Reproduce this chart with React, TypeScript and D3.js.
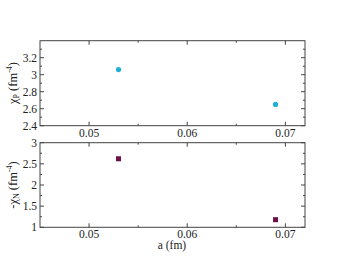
import { useEffect, useRef } from 'react';
import * as d3 from 'd3';

// lattice spacing a (fm)
const spacings = [0.053, 0.069];
const chiP = [3.06, 2.65];
const chiN = [2.62, 1.18];

const xTicks = [0.05, 0.06, 0.07];
const xMinor = [0.055, 0.065];
const topTicks = [2.4, 2.6, 2.8, 3.0, 3.2];
const topMinor = [2.5, 2.7, 2.9, 3.1, 3.3];
const botTicks = [1, 1.5, 2, 2.5, 3];
const botMinor = [1.25, 1.75, 2.25, 2.75];

const App = () => {
  const svgRef = useRef<SVGSVGElement>(null);

  useEffect(() => {
    const svg = d3.select(svgRef.current);
    svg.selectAll('*').remove();

    const left = 40;
    const right = 305;
    const frame = '#444';
    const font = '"Liberation Serif", "Times New Roman", serif';

    const x = d3.scaleLinear().domain([0.045, 0.072]).range([left, right]);

    const panel = (
      top: number,
      bottom: number,
      domain: [number, number],
      major: number[],
      minor: number[],
      fmt: (v: number) => string,
    ) => {
      const y = d3.scaleLinear().domain(domain).range([bottom, top]);
      const g = svg.append('g');

      g.append('rect')
        .attr('x', left)
        .attr('y', top)
        .attr('width', right - left)
        .attr('height', bottom - top)
        .attr('fill', 'none')
        .attr('stroke', frame)
        .attr('stroke-width', 1);

      // ticks on all four sides, pointing inward
      const tk = (len: number, vals: number[], isX: boolean) => {
        vals.forEach(v => {
          if (isX) {
            const px = x(v);
            g.append('line').attr('x1', px).attr('x2', px).attr('y1', bottom).attr('y2', bottom - len).attr('stroke', frame);
            g.append('line').attr('x1', px).attr('x2', px).attr('y1', top).attr('y2', top + len).attr('stroke', frame);
          } else {
            const py = y(v);
            g.append('line').attr('x1', left).attr('x2', left + len).attr('y1', py).attr('y2', py).attr('stroke', frame);
            g.append('line').attr('x1', right).attr('x2', right - len).attr('y1', py).attr('y2', py).attr('stroke', frame);
          }
        });
      };
      tk(4, xTicks, true);
      tk(2, xMinor, true);
      tk(4, major, false);
      tk(2, minor, false);

      g.selectAll('.xl')
        .data(xTicks)
        .enter()
        .append('text')
        .attr('x', d => x(d))
        .attr('y', bottom + 11)
        .attr('text-anchor', 'middle')
        .style('font-family', font)
        .style('font-size', '11.5px')
        .attr('fill', '#222')
        .text(d => d.toFixed(2));

      g.selectAll('.yl')
        .data(major)
        .enter()
        .append('text')
        .attr('x', left - 3)
        .attr('y', d => y(d) + 4)
        .attr('text-anchor', 'end')
        .style('font-family', font)
        .style('font-size', '11.5px')
        .attr('fill', '#222')
        .text(d => fmt(d));

      return { g, y };
    };

    const fmtTop = (v: number) => (Math.abs(v - 3) < 1e-9 ? '3' : v.toFixed(1));
    const fmtBot = (v: number) => (Number.isInteger(v) ? String(v) : v.toFixed(1));

    const p1 = panel(40.7, 125.7, [2.4, 3.4], topTicks, topMinor, fmtTop);
    const p2 = panel(142.7, 227.3, [1, 3], botTicks, botMinor, fmtBot);

    p1.g.selectAll('circle')
      .data(spacings)
      .enter()
      .append('circle')
      .attr('cx', d => x(d))
      .attr('cy', (d, i) => p1.y(chiP[i]))
      .attr('r', 2.6)
      .attr('fill', '#1fb2d6');

    p2.g.selectAll('rect.pt')
      .data(spacings)
      .enter()
      .append('rect')
      .attr('class', 'pt')
      .attr('x', d => x(d) - 2.5)
      .attr('y', (d, i) => p2.y(chiN[i]) - 2.5)
      .attr('width', 5)
      .attr('height', 5)
      .attr('fill', '#6b0f46');

    // axis titles
    const yTitle = (cx: number, cy: number, prefix: string, sub: string) => {
      const t = svg.append('text')
        .attr('transform', `translate(${cx},${cy}) rotate(-90)`)
        .attr('text-anchor', 'middle')
        .style('font-family', font)
        .style('font-size', '12.5px')
        .attr('fill', '#222');
      t.append('tspan').text(prefix + 'χ');
      t.append('tspan').attr('dy', 2).style('font-size', '8px').text(sub);
      t.append('tspan').attr('dy', -2).text(' (fm');
      t.append('tspan').attr('dy', -5).style('font-size', '8px').text('-4');
      t.append('tspan').attr('dy', 5).text(')');
    };
    yTitle(17, 83, '', 'P');
    yTitle(17, 185, '-', 'N');

    svg.append('text')
      .attr('x', 172)
      .attr('y', 249)
      .attr('text-anchor', 'middle')
      .style('font-family', font)
      .style('font-size', '11.5px')
      .attr('fill', '#222')
      .text('a (fm)');
  }, []);

  return (
    <svg
      ref={svgRef}
      width={346}
      height={268}
      style={{ position: 'absolute', left: 0, top: 0, background: '#fff' }}
    />
  );
};

export default App;
